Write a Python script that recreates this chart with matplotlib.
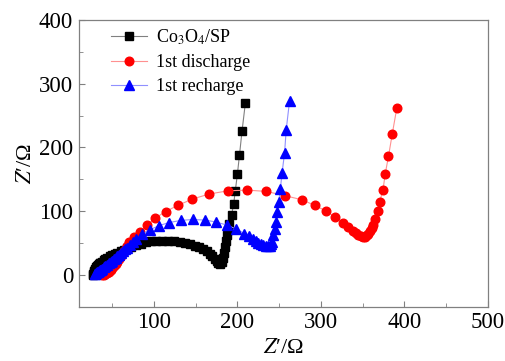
import numpy as np
import matplotlib
matplotlib.use("Agg")
import matplotlib.pyplot as plt
from matplotlib.ticker import MultipleLocator

plt.rcParams['font.family'] = ['Liberation Serif', 'DejaVu Serif']
plt.rcParams['mathtext.fontset'] = 'stix'

# Co3O4/SP
sp_x = [27, 27.5, 28, 28.5, 29, 30, 31, 32, 33, 34, 35, 36, 38, 40, 42, 44, 47, 50, 53,
        56, 60, 64, 68, 73, 78, 84, 90, 96, 103, 110, 117, 124, 131, 137, 143, 149,
        154, 159, 163, 167, 170, 173, 175, 177, 179, 181, 183, 184.5, 185.5, 186.5,
        187.5, 188.5, 190, 193, 195.5, 197.5, 200, 202.5, 205.5, 209.5]
sp_y = [0, 2, 4, 6, 8, 10, 12, 13.5, 15, 16.5, 18, 19.5, 21, 23, 25, 27, 29, 31, 33,
        35, 37, 39.5, 42, 44.5, 47, 49, 51, 52.5, 53.5, 54, 54, 53, 52, 50.5, 48.5, 46,
        43.5, 40.5, 37, 33, 29.5, 25.5, 22, 18.5, 17, 20, 27, 35, 44, 53, 62, 71, 80,
        94, 111, 132, 158, 188, 225, 269]

# 1st discharge
dis_x = [38, 40, 42, 44, 46, 48, 50, 52, 54, 56, 58, 60, 62, 64, 66, 68, 70.5, 76,
         83.5, 92, 101.5, 114, 128.5, 146, 166.5, 189, 212, 234.5, 256.5, 277, 293,
         306.5, 317, 326.5, 333, 338.5, 342, 345, 348, 350.5, 353, 355, 357, 359, 361,
         363, 365, 368, 370.5, 374.5, 377, 381, 385.5, 391]
dis_y = [0, 0.5, 1.5, 3, 5, 8, 11, 14, 17.5, 21, 25, 29, 33, 37, 41, 45, 51, 60, 68,
         78, 89, 99.5, 109, 119, 127, 132, 133, 131, 124.5, 118, 109, 100, 91, 82,
         75, 69, 66, 63, 61, 59.5, 60, 62, 65, 69, 73, 78, 88, 100, 115, 134, 158,
         186, 221, 262]

# 1st recharge
rec_x = [29, 30, 31, 32, 33, 34, 35, 36.5, 38, 40, 42, 44, 46, 48, 50, 52, 54, 56,
         58, 60, 62.5, 65, 68, 71.5, 75, 79, 86, 95.5, 105.5, 117.5, 132, 146.5, 161.5,
         174.5, 188, 198.5, 208.5, 214, 218.5, 222, 225, 228, 231, 234, 236.5, 238.5,
         240, 241.5, 243, 245, 246.5, 248, 249.5, 251.5, 253.5, 256.5, 258.5, 262.5]
rec_y = [1, 2, 3, 4, 5, 6, 7, 8.5, 10, 12, 14, 16, 18, 20, 22, 24.5, 27, 29.5, 32,
         34.5, 37, 40, 43, 47, 51, 56, 64, 71, 77, 82, 85.5, 87, 86, 83, 78, 72, 65,
         60.5, 56, 53, 50, 48, 46.5, 45.5, 45, 46, 48, 52, 62, 72, 83, 98, 115, 135,
         160, 191, 228, 273]

fig = plt.figure(figsize=(5.05, 3.61), dpi=100)
ax = fig.add_axes([0.156, 0.150, 0.810, 0.795])

ax.plot(sp_x, sp_y, '-', color='#808080', lw=0.8, marker='s', ms=5.5,
        mfc='black', mec='black', label=r'Co$_3$O$_4$/SP')
ax.plot(dis_x, dis_y, '-', color='#ff9090', lw=0.8, marker='o', ms=6.2,
        mfc='#ff0000', mec='#ff0000', label='1st discharge')
ax.plot(rec_x, rec_y, '-', color='#9090ff', lw=0.8, marker='^', ms=6.5,
        mfc='#0000ff', mec='#0000ff', label='1st recharge')

ax.set_xlim(10, 500)
ax.set_ylim(-50, 400)
ax.xaxis.set_major_locator(MultipleLocator(100))
ax.xaxis.set_minor_locator(MultipleLocator(50))
ax.yaxis.set_major_locator(MultipleLocator(100))
ax.yaxis.set_minor_locator(MultipleLocator(50))
ax.set_xticks([100, 200, 300, 400, 500])
ax.tick_params(which='both', direction='in', color='#808080', labelsize=16.5,
               top=False, right=False)
ax.tick_params(which='major', length=4, pad=4)
ax.tick_params(which='minor', length=3)
for s in ax.spines.values():
    s.set_color('#808080')
    s.set_linewidth(0.9)

ax.set_xlabel(r"$Z$′/Ω", fontsize=16, labelpad=4)
ax.set_ylabel(r"$Z$′/Ω", fontsize=16, labelpad=2)

ax.legend(loc='upper left', frameon=False, fontsize=13, handlelength=2.0,
          handletextpad=0.5, borderaxespad=0.2, labelspacing=0.38,
          bbox_to_anchor=(0.052, 1.01))

fig.savefig('out.png', dpi=100)
